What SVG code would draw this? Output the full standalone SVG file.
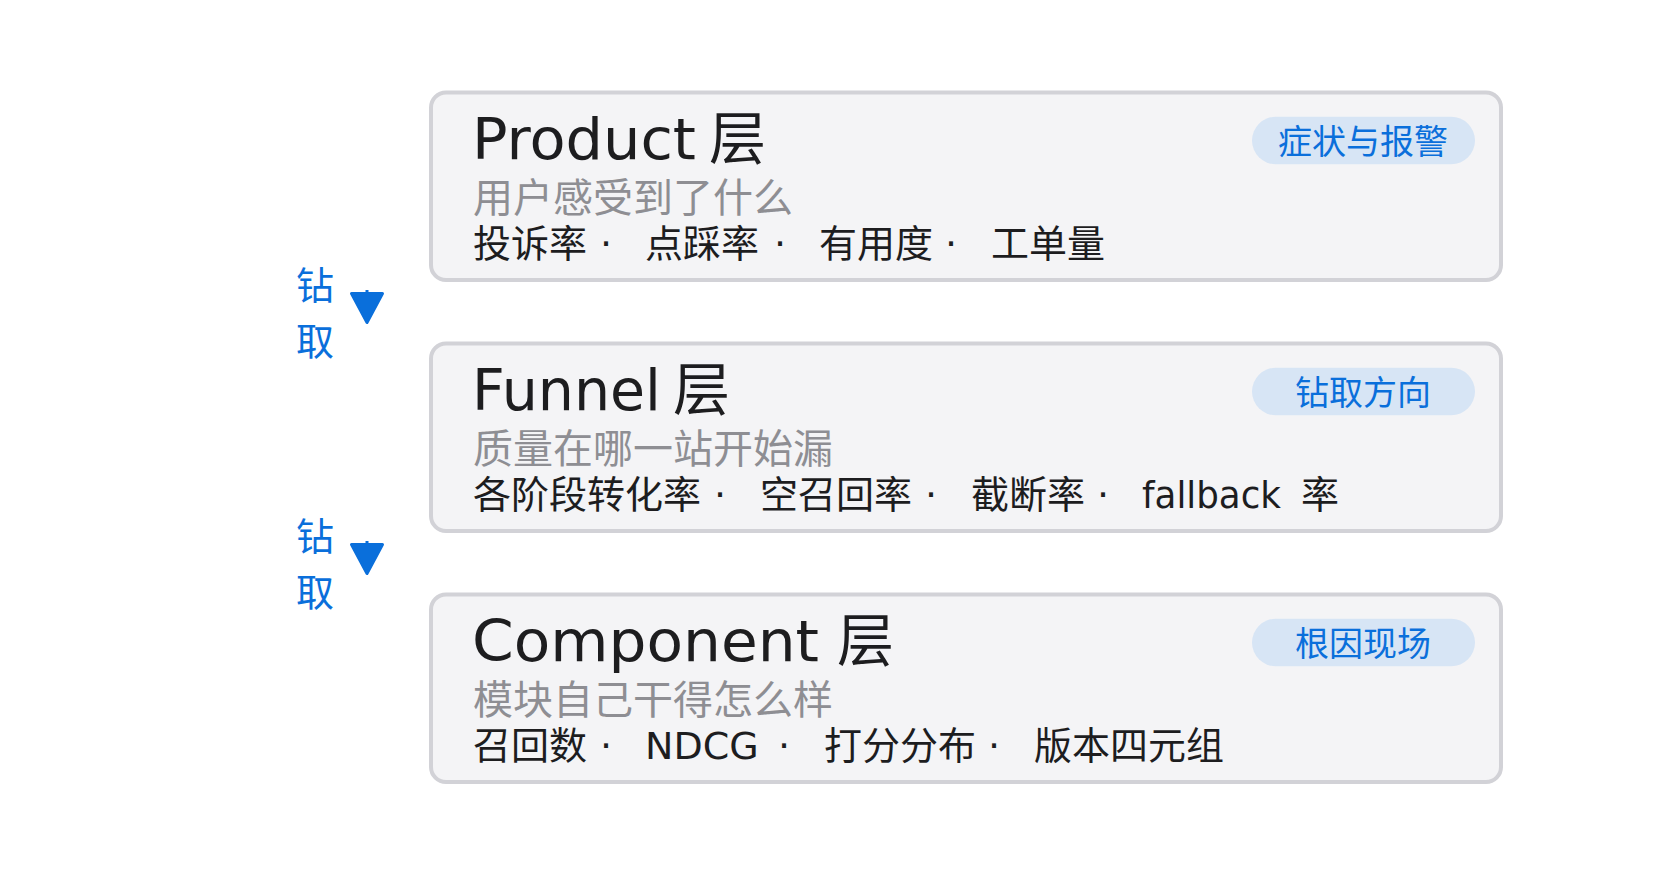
<svg xmlns="http://www.w3.org/2000/svg" width="1653" height="880" viewBox="0 0 1653 880">
<style>
.box{fill:#f4f4f6;stroke:#d2d2d7;stroke-width:4}
.pill{fill:#d7e5f5}
.title{font-family:"DejaVu Sans","Noto Sans CJK SC",sans-serif;font-size:57px;fill:#1d1d1f}
.sub{font-family:"Noto Sans CJK SC",sans-serif;font-size:40px;fill:#8e8e93}
.met{font-family:"DejaVu Sans","Noto Sans CJK SC",sans-serif;font-size:38px;fill:#1d1d1f}
.dot{text-anchor:middle}
.tag{font-family:"Noto Sans CJK SC",sans-serif;font-size:34px;fill:#0a6fdb;text-anchor:middle}
.drill{font-family:"Noto Sans CJK SC",sans-serif;font-size:38px;fill:#0a6fdb;text-anchor:middle}
.conn{stroke:#0a6fdb;stroke-width:3;fill:none}
</style>
<defs>
<marker id="arr" viewBox="0 0 34 34" markerWidth="34" markerHeight="34" markerUnits="userSpaceOnUse" refX="2" refY="17" orient="auto" overflow="visible">
<path d="M2,1.5 L31,17 L2,32.5 Z" fill="#0a6fdb" stroke="#0a6fdb" stroke-width="3" stroke-linejoin="round"/>
</marker>
</defs>
<rect width="1653" height="880" fill="#ffffff"/>

<g id="product">
<rect class="box" x="431" y="92.5" width="1070" height="187.5" rx="15"/>
<text class="title" y="159"><tspan x="472" textLength="224" lengthAdjust="spacingAndGlyphs">Product</tspan><tspan x="709">层</tspan></text>
<text class="sub" x="473" y="212">用户感受到了什么</text>
<text class="met" y="257"><tspan x="473">投诉率</tspan><tspan class="dot" x="606">·</tspan><tspan x="645">点踩率</tspan><tspan class="dot" x="780">·</tspan><tspan x="819">有用度</tspan><tspan class="dot" x="951">·</tspan><tspan x="991">工单量</tspan></text>
<rect class="pill" x="1252" y="116.7" width="223" height="47.6" rx="23.8"/>
<text class="tag" x="1363" y="154">症状与报警</text>
</g>

<g id="funnel">
<rect class="box" x="431" y="343.5" width="1070" height="187.5" rx="15"/>
<text class="title" y="410"><tspan x="472">Funnel</tspan><tspan x="673">层</tspan></text>
<text class="sub" x="473" y="463">质量在哪一站开始漏</text>
<text class="met" y="508"><tspan x="473">各阶段转化率</tspan><tspan class="dot" x="720">·</tspan><tspan x="760">空召回率</tspan><tspan class="dot" x="931">·</tspan><tspan x="971">截断率</tspan><tspan class="dot" x="1103">·</tspan><tspan x="1142" textLength="139" lengthAdjust="spacingAndGlyphs">fallback</tspan><tspan x="1301">率</tspan></text>
<rect class="pill" x="1252" y="367.7" width="223" height="47.6" rx="23.8"/>
<text class="tag" x="1363" y="405">钻取方向</text>
</g>

<g id="component">
<rect class="box" x="431" y="594.5" width="1070" height="187.5" rx="15"/>
<text class="title" y="661"><tspan x="472" textLength="347" lengthAdjust="spacingAndGlyphs">Component</tspan><tspan x="837">层</tspan></text>
<text class="sub" x="473" y="714">模块自己干得怎么样</text>
<text class="met" y="759"><tspan x="473">召回数</tspan><tspan class="dot" x="606">·</tspan><tspan x="645">NDCG</tspan><tspan class="dot" x="784">·</tspan><tspan x="824">打分分布</tspan><tspan class="dot" x="994">·</tspan><tspan x="1034">版本四元组</tspan></text>
<rect class="pill" x="1252" y="618.7" width="223" height="47.6" rx="23.8"/>
<text class="tag" x="1363" y="656">根因现场</text>
</g>

<g id="connectors">
<line class="conn" x1="367" y1="290" x2="367" y2="293.5" marker-end="url(#arr)"/>
<line class="conn" x1="367" y1="541" x2="367" y2="544.5" marker-end="url(#arr)"/>
<text class="drill" x="315" y="299">钻</text>
<text class="drill" x="315" y="355">取</text>
<text class="drill" x="315" y="550">钻</text>
<text class="drill" x="315" y="606">取</text>
</g>
</svg>
